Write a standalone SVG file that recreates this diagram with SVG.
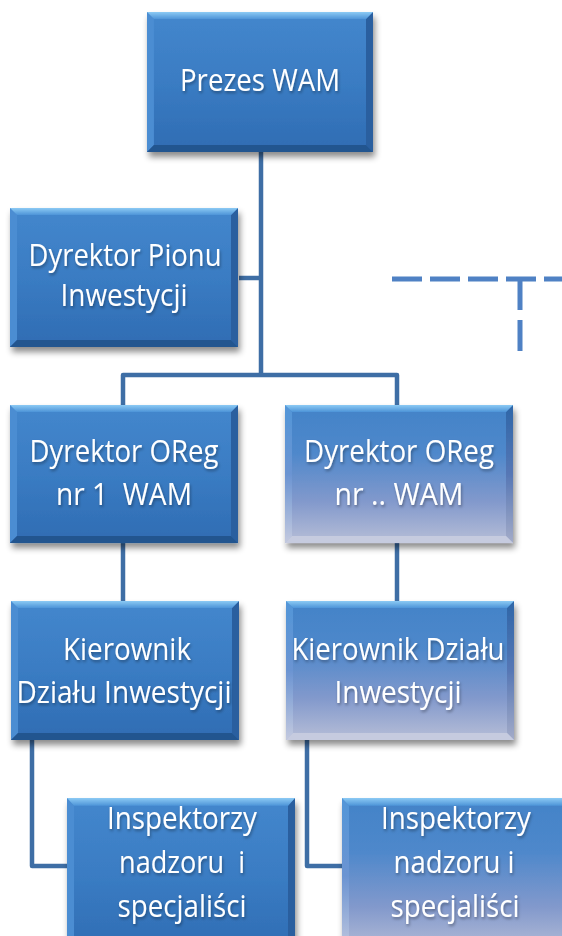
<svg xmlns="http://www.w3.org/2000/svg" xmlns:xlink="http://www.w3.org/1999/xlink" width="562" height="936" viewBox="0 0 562 936">
<style>
.t{font-family:"Open Sans","Noto Sans","Liberation Sans",sans-serif;font-size:31px;fill:#ffffff;text-anchor:middle;filter:url(#ts)}
.ln{fill:none;stroke:#3e6ea5;stroke-width:4.5;stroke-linejoin:round}
.ds{fill:none;stroke:#4f81c4;stroke-width:5}
</style>
<defs>
<filter id="sh" x="-10%" y="-10%" width="125%" height="130%">
<feDropShadow dx="2" dy="5" stdDeviation="3" flood-color="#000" flood-opacity="0.45"/>
</filter>
<filter id="ts" x="-10%" y="-30%" width="120%" height="170%">
<feDropShadow dx="1" dy="2" stdDeviation="1.5" flood-color="#000" flood-opacity="0.35"/>
</filter>
<linearGradient id="gMain" x1="0" y1="0" x2="0" y2="1">
<stop offset="0" stop-color="#4487cd"/>
<stop offset="0.5" stop-color="#3a7cc3"/>
<stop offset="1" stop-color="#2f6cb3"/>
</linearGradient>
<linearGradient id="gTop" x1="0" y1="0" x2="0" y2="1">
<stop offset="0" stop-color="#8ccaf4"/>
<stop offset="1" stop-color="#4d94d8"/>
</linearGradient>
<linearGradient id="gFade" x1="0" y1="0" x2="0" y2="1">
<stop offset="0" stop-color="#4283c8"/>
<stop offset="0.35" stop-color="#4f88cb"/>
<stop offset="0.7" stop-color="#8299cc"/>
<stop offset="1" stop-color="#b7bed7"/>
</linearGradient>
<linearGradient id="gFadeR" x1="0" y1="0" x2="0" y2="1">
<stop offset="0" stop-color="#2e66a8"/>
<stop offset="0.5" stop-color="#5677b5"/>
<stop offset="1" stop-color="#a3abc8"/>
</linearGradient>
<linearGradient id="gFadeL" x1="0" y1="0" x2="0" y2="1">
<stop offset="0" stop-color="#5296d8"/>
<stop offset="0.5" stop-color="#6b94d2"/>
<stop offset="1" stop-color="#c3c9df"/>
</linearGradient>
<g id="bx">
<rect x="0" y="0" width="228" height="139" fill="url(#gMain)"/>
<polygon points="0,0 7,7 7,132 0,139" fill="#4b8dd2"/>
<polygon points="228,0 228,139 221,132 221,7" fill="#2b5f9f"/>
<polygon points="0,139 7,132 221,132 228,139" fill="#24558f"/>
<polygon points="0,0 228,0 221,7 7,7" fill="url(#gTop)"/>
</g>
<g id="bxf">
<rect x="0" y="0" width="228" height="139" fill="url(#gFade)"/>
<polygon points="0,0 7,7 7,132 0,139" fill="url(#gFadeL)"/>
<polygon points="228,0 228,139 221,132 221,7" fill="url(#gFadeR)"/>
<polygon points="0,139 7,132 221,132 228,139" fill="#c6cbdf"/>
<polygon points="0,0 228,0 221,7 7,7" fill="url(#gTop)"/>
</g>
</defs>
<rect width="562" height="936" fill="#ffffff"/>
<g id="connectors">
<path class="ln" d="M261 152 V375"/>
<path class="ln" d="M239 278 H261"/>
<path class="ln" d="M123 405 V375 H397 V405"/>
<path class="ln" d="M123 543 V601"/>
<path class="ln" d="M397 543 V601"/>
<path class="ln" d="M32 740 V866 H67"/>
<path class="ln" d="M307 740 V866 H342"/>
<path class="ds" d="M392 279 H562" stroke-dasharray="30 8"/>
<path class="ds" d="M520 279 V351" stroke-dasharray="31 10"/>
</g>
<g id="prezes">
<use xlink:href="#bx" href="#bx" transform="translate(147,12) scale(0.991,1.007)" filter="url(#sh)"/>
<text class="t" x="260" y="91" textLength="160" lengthAdjust="spacingAndGlyphs">Prezes WAM</text>
</g>
<g id="dyrektor-pionu">
<use href="#bx" transform="translate(10,208)" filter="url(#sh)"/>
<text class="t" x="125" y="266" textLength="193" lengthAdjust="spacingAndGlyphs">Dyrektor Pionu</text>
<text class="t" x="124" y="306" textLength="127" lengthAdjust="spacingAndGlyphs">Inwestycji</text>
</g>
<g id="oreg-1">
<use href="#bx" transform="translate(10,405) scale(1,0.993)" filter="url(#sh)"/>
<text class="t" x="124" y="462" textLength="189" lengthAdjust="spacingAndGlyphs">Dyrektor OReg</text>
<text class="t" x="124" y="505" textLength="136" lengthAdjust="spacingAndGlyphs" xml:space="preserve">nr 1  WAM</text>
</g>
<g id="oreg-n">
<use href="#bxf" transform="translate(285,405) scale(1,0.993)" filter="url(#sh)"/>
<text class="t" x="399" y="462" textLength="190" lengthAdjust="spacingAndGlyphs">Dyrektor OReg</text>
<text class="t" x="399" y="505" textLength="129" lengthAdjust="spacingAndGlyphs">nr .. WAM</text>
</g>
<g id="kierownik-1">
<use href="#bx" transform="translate(11,601)" filter="url(#sh)"/>
<text class="t" x="127" y="660" textLength="128" lengthAdjust="spacingAndGlyphs">Kierownik</text>
<text class="t" x="124" y="703" textLength="215" lengthAdjust="spacingAndGlyphs">Działu Inwestycji</text>
</g>
<g id="kierownik-n">
<use href="#bxf" transform="translate(286,601)" filter="url(#sh)"/>
<text class="t" x="398" y="660" textLength="213" lengthAdjust="spacingAndGlyphs">Kierownik Działu</text>
<text class="t" x="398" y="703" textLength="127" lengthAdjust="spacingAndGlyphs">Inwestycji</text>
</g>
<g id="inspektorzy-1">
<use href="#bx" transform="translate(67,798) scale(1,1.12)" filter="url(#sh)"/>
<text class="t" x="182" y="829" textLength="150" lengthAdjust="spacingAndGlyphs">Inspektorzy</text>
<text class="t" x="182" y="873" textLength="126" lengthAdjust="spacingAndGlyphs" xml:space="preserve">nadzoru  i</text>
<text class="t" x="182" y="917" textLength="129" lengthAdjust="spacingAndGlyphs">specjaliści</text>
</g>
<g id="inspektorzy-n">
<use href="#bxf" transform="translate(342,798) scale(1,1.12)" filter="url(#sh)"/>
<text class="t" x="456" y="829" textLength="150" lengthAdjust="spacingAndGlyphs">Inspektorzy</text>
<text class="t" x="454" y="873" textLength="121" lengthAdjust="spacingAndGlyphs">nadzoru i</text>
<text class="t" x="455" y="917" textLength="129" lengthAdjust="spacingAndGlyphs">specjaliści</text>
</g>
</svg>
